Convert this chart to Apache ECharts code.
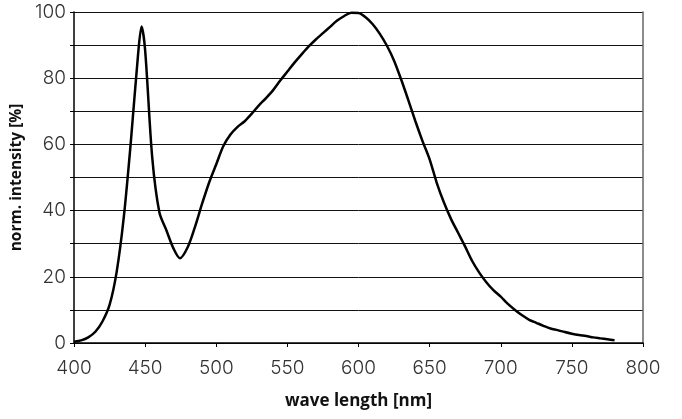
<!DOCTYPE html>
<html>
<head>
<meta charset="utf-8">
<script src="https://cdn.jsdelivr.net/npm/echarts@6/dist/echarts.min.js"></script>
<style>html,body{margin:0;padding:0;background:#fff}#c{width:682px;height:419px}</style>
</head>
<body>
<div id="c"></div>
<script>
var wavelengths = [400,405,410,415,420,425,430,435,440,445,447.5,450,455,460,465,470,474.5,480,485,490,495,500,505,510,515,520,525,530,535,540,545,550,555,560,565,570,575,580,585,590,595,600,605,610,615,620,625,630,635,640,645,650,655,660,665,670,675,680,685,690,695,700,705,710,715,720,725,730,735,740,745,750,755,760,765,770,775,780];
var intensity = [0.4,0.8,1.7,3.4,6.5,11.5,21.5,38,61,87,95.6,88.5,56,39.5,34,28.5,25.6,29,35,42,48.5,54,59.5,63,65.3,67,69.3,71.8,74,76.4,79.3,82,84.7,87.2,89.6,91.7,93.6,95.5,97.4,98.8,99.8,99.7,98.4,96.3,93.4,89.8,85.3,79.6,73.4,67,61,55.5,48.4,42.5,37.5,33.3,29.1,24.7,21.2,18.3,15.9,14,11.8,10,8.4,7,6.1,5.2,4.4,3.9,3.3,2.8,2.4,2.1,1.7,1.4,1.1,0.8];
var xTicks = [400,450,500,550,600,650,700,750,800];
var yTicks = [0,20,40,60,80,100];

var chart = echarts.init(document.getElementById('c'), null, {renderer:'canvas'});
var labelFont = 'Inter, "Open Sans", sans-serif';
var titleFont = '"Open Sans", "DejaVu Sans", sans-serif';
chart.setOption({
  animation: false,
  grid: {left: 74, right: 39, top: 12, bottom: 76, show: false},
  xAxis: {
    type: 'value', min: xTicks[0], max: xTicks[xTicks.length-1], interval: 50,
    axisLine: {show: true, onZero: false, lineStyle: {color: '#000', width: 1.5}},
    axisTick: {show: true, length: 4, lineStyle: {color: '#000', width: 1}},
    axisLabel: {margin: 16, color: '#333', fontSize: 19, fontFamily: labelFont, fontWeight: 300},
    splitLine: {show: false},
    name: 'wave length [nm]', nameLocation: 'middle', nameGap: 50,
    nameTextStyle: {fontSize: 17, fontWeight: 'bold', color: '#111', fontFamily: titleFont}
  },
  yAxis: [{
    type: 'value', min: 0, max: 100, interval: 10,
    axisLine: {show: true, onZero: false, lineStyle: {color: '#000', width: 1.5}},
    axisTick: {show: true, length: 4, inside: false, lineStyle: {color: '#000', width: 1}},
    axisLabel: {margin: 8, color: '#333', fontSize: 19, fontFamily: labelFont, fontWeight: 300,
      formatter: function(v){ return yTicks.indexOf(v) >= 0 ? String(v) : ''; }},
    splitLine: {show: true, lineStyle: {color: '#111', width: 1}},
    name: 'norm. intensity [%]', nameLocation: 'middle', nameGap: 46,
    nameTextStyle: {fontSize: 15.5, fontWeight: 'bold', color: '#111', fontFamily: titleFont}
  }, {
    type: 'value', min: 0, max: 100, interval: 10, position: 'right',
    axisLine: {show: true, lineStyle: {color: '#666', width: 1.5}},
    axisTick: {show: false}, axisLabel: {show: false}, splitLine: {show: false}
  }],
  series: [{
    type: 'line',
    data: wavelengths.map(function(w, i){ return [w, intensity[i]]; }),
    showSymbol: false, smooth: 0.3,
    lineStyle: {color: '#000', width: 2.5}
  }]
});
</script>
</body>
</html>
